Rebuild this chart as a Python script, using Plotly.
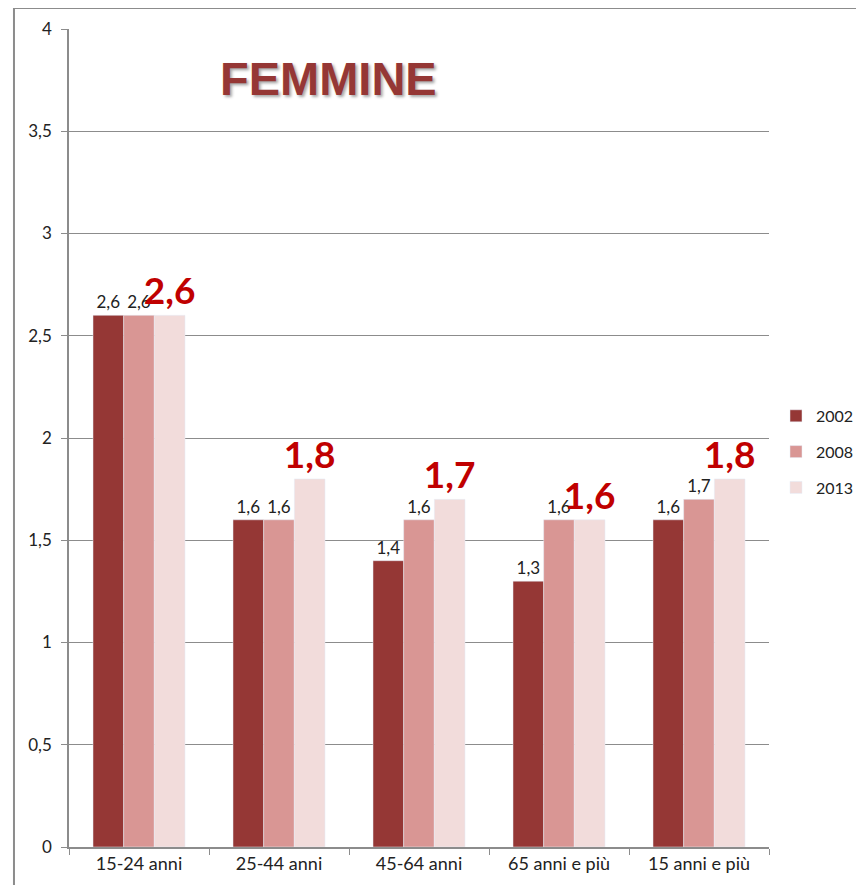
import plotly.graph_objects as go

categories = ["15-24 anni", "25-44 anni", "45-64 anni", "65 anni e più", "15 anni e più"]
v2002 = [2.6, 1.6, 1.4, 1.3, 1.6]
v2008 = [2.6, 1.6, 1.6, 1.6, 1.7]
v2013 = [2.6, 1.8, 1.7, 1.6, 1.8]
y_ticks = [0, 0.5, 1, 1.5, 2, 2.5, 3, 3.5, 4]


def lab(vals):
    return [f"{v:.1f}".replace(".", ",") for v in vals]


fig = go.Figure()

small_font = dict(family="Lato, Carlito, sans-serif", size=17, color="#222222")
big_font = dict(family="Lato, Carlito, sans-serif", size=37, color="#C00000", weight="bold")

# series
fig.add_trace(go.Bar(x=categories, y=v2002, name="2002", marker_color="#953735",
                     text=lab(v2002), textposition="outside", textfont=small_font,
                     constraintext="none", legendgroup="a", cliponaxis=False))
fig.add_trace(go.Bar(x=categories, y=v2008, name="2008", marker_color="#D99694",
                     text=lab(v2008), textposition="outside", textfont=small_font,
                     constraintext="none", legendgroup="b", cliponaxis=False))
fig.add_trace(go.Bar(x=categories, y=v2013, name="2013", marker_color="#F2DCDB",
                     text=lab(v2013), textposition="outside", textfont=big_font,
                     constraintext="none", legendgroup="c", cliponaxis=False))

# title in the plot area, with a light shadow
fig.add_annotation(
    text="FEMMINE", x=0.371, y=0.94, xref="paper", yref="paper",
    showarrow=False, xanchor="center", yanchor="middle",
    font=dict(family="Liberation Sans, Arial, sans-serif", size=47, color="#953735",
              weight="bold", shadow="2px 2px 3px rgba(0,0,0,0.35)"),
)

# outer chart frame
fig.add_shape(type="rect", xref="paper", yref="paper",
              x0=-0.0786, x1=1.2, y0=-0.1, y1=1.0257,
              line=dict(color="#8c8c8c", width=2), fillcolor="rgba(0,0,0,0)", layer="below")

# the page body adds 8px around the figure
fig.update_layout(
    width=848,
    height=877,
    margin=dict(l=61, r=87, t=21, b=38, autoexpand=False),
    plot_bgcolor="white",
    paper_bgcolor="white",
    separators=",.",
    barmode="group",
    bargap=0.343,
    bargroupgap=0,
    font=dict(family="Lato, Carlito, sans-serif", size=17, color="#222222"),
    legend=dict(x=1.01, y=0.483, xanchor="left", yanchor="middle",
                font=dict(size=16), tracegroupgap=12, traceorder="grouped",
                itemwidth=30, bgcolor="rgba(0,0,0,0)"),
    showlegend=True,
)

fig.update_yaxes(
    range=[0, 4], tickvals=y_ticks, showgrid=True, gridcolor="#8c8c8c", gridwidth=1,
    showline=True, linecolor="#8c8c8c", linewidth=1.5, ticks="outside", ticklen=6,
    tickcolor="#8c8c8c", ticklabelstandoff=6, zeroline=False,
    tickfont=dict(size=17, color="#222222"),
)
fig.update_xaxes(
    showline=True, linecolor="#8c8c8c", linewidth=1.5, ticks="outside", ticklen=6,
    tickcolor="#8c8c8c", tickson="boundaries", showgrid=False,
    tickfont=dict(size=18, color="#222222"),
)

fig.write_html("out.html")
